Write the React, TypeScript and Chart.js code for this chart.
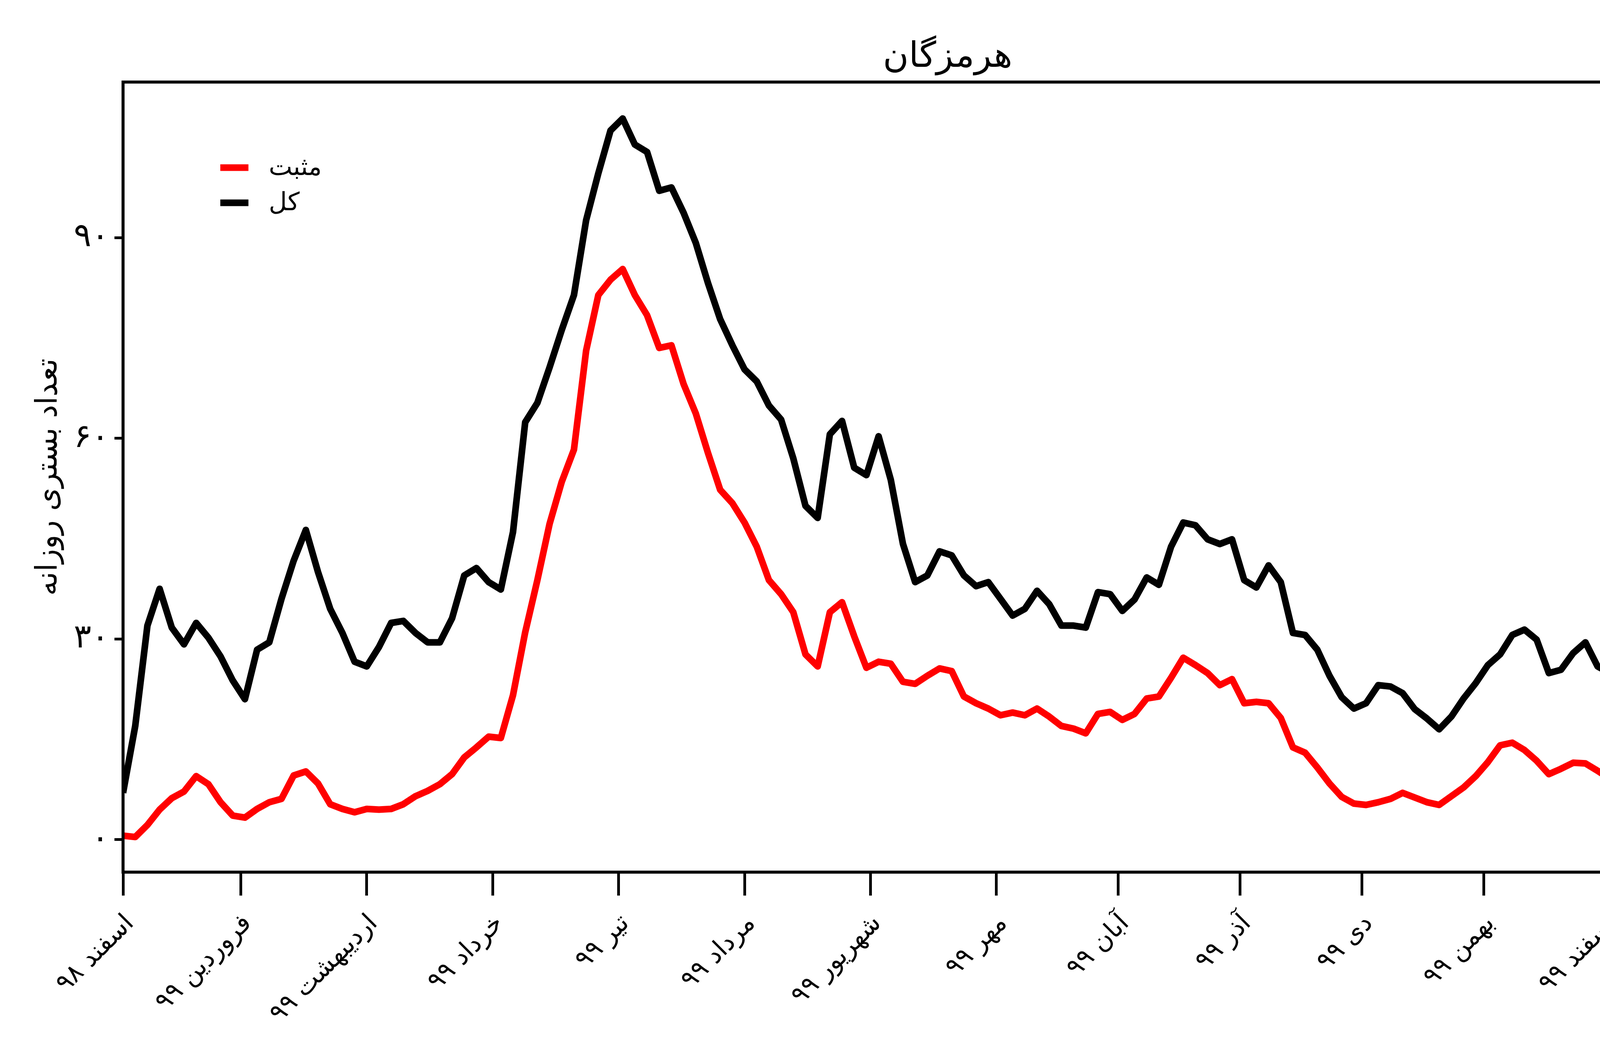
import React, { useRef, useEffect } from 'react';
import Chart from 'chart.js/auto';

// روزهای نمونه از ۱ اسفند ۹۸
const days = [
  0, 3, 6, 9, 12, 15, 18, 21, 24, 27, 30, 33, 36, 39, 42, 45, 48, 51, 54, 57,
  60, 63, 66, 69, 72, 75, 78, 81, 84, 87, 90, 93, 96, 99, 102, 105, 108, 111, 114, 117,
  120, 123, 126, 129, 132, 135, 138, 141, 144, 147, 150, 153, 156, 159, 162, 165, 168, 171, 174, 177,
  180, 183, 186, 189, 192, 195, 198, 201, 204, 207, 210, 213, 216, 219, 222, 225, 228, 231, 234, 237,
  240, 243, 246, 249, 252, 255, 258, 261, 264, 267, 270, 273, 276, 279, 282, 285, 288, 291, 294, 297,
  300, 303, 306, 309, 312, 315, 318, 321, 324, 327, 330, 333, 336, 339, 342, 345, 348, 351, 354, 357,
  360, 363, 366, 369, 372, 375, 378, 381, 384, 387, 390, 393, 396, 399, 402,
];

// مثبت
const positive = [
  0.6, 0.4, 2.2, 4.5, 6.2, 7.2, 9.5, 8.3, 5.6, 3.6, 3.3, 4.6, 5.6, 6.1, 9.6, 10.2, 8.4, 5.3, 4.6, 4.1,
  4.6, 4.5, 4.6, 5.3, 6.5, 7.3, 8.3, 9.8, 12.3, 13.8, 15.4, 15.2, 21.6, 31, 38.8, 47.2, 53.5, 58.3, 73.1, 81.4,
  83.7, 85.3, 81.4, 78.4, 73.5, 73.9, 68.1, 63.7, 57.8, 52.3, 50.3, 47.4, 43.8, 38.8, 36.7, 34, 27.7, 25.9, 34, 35.5,
  30.4, 25.7, 26.6, 26.3, 23.6, 23.3, 24.5, 25.6, 25.2, 21.4, 20.4, 19.6, 18.6, 19, 18.6, 19.6, 18.4, 17, 16.6, 15.9,
  18.8, 19.1, 17.9, 18.8, 21.1, 21.4, 24.2, 27.2, 26.1, 24.9, 23.1, 24, 20.4, 20.6, 20.4, 18.2, 13.8, 13, 10.8, 8.4,
  6.4, 5.4, 5.2, 5.6, 6.1, 7, 6.3, 5.6, 5.2, 6.5, 7.8, 9.5, 11.6, 14.1, 14.5, 13.4, 11.8, 9.8, 10.6, 11.5,
  11.4, 10.3, 9.1, 7.5, 7.9, 8.9, 11.1, 11.3, 10.7, 9.6, 9.8, 9.1, 11.6, 15.6, 18.9,
];

// کل
const total = [
  7, 17, 32, 37.5, 31.7, 29.2, 32.4, 30.2, 27.4, 23.8, 21, 28.4, 29.5, 36, 41.7, 46.3, 40, 34.5, 30.9, 26.6,
  25.9, 28.8, 32.4, 32.7, 30.9, 29.5, 29.5, 33.1, 39.5, 40.6, 38.5, 37.4, 46, 62.4, 65.3, 70.6, 76.2, 81.4, 92.6, 99.6,
  106, 107.8, 103.9, 102.8, 97, 97.5, 93.7, 89.2, 83.2, 77.8, 73.9, 70.3, 68.5, 64.9, 62.8, 57, 49.9, 48.1, 60.6, 62.6,
  55.6, 54.5, 60.3, 53.8, 44.2, 38.5, 39.5, 43.1, 42.5, 39.5, 37.9, 38.5, 36, 33.5, 34.5, 37.2, 35.2, 32, 32, 31.7,
  37, 36.7, 34.2, 35.9, 39.2, 38.1, 43.8, 47.4, 47, 44.9, 44.2, 44.9, 38.8, 37.7, 41, 38.5, 30.9, 30.6, 28.4, 24.5,
  21.3, 19.6, 20.4, 23.1, 22.9, 21.9, 19.5, 18.1, 16.5, 18.4, 21.1, 23.4, 26.1, 27.7, 30.6, 31.4, 29.9, 24.9, 25.4, 27.9,
  29.5, 25.9, 24.9, 20.7, 23.8, 26.3, 26.7, 26.3, 25.6, 22.4, 22, 21.6, 23.6, 30.2, 36.5,
];

// ابتدای ماه‌ها
const monthStarts = [0, 29, 60, 91, 122, 153, 184, 215, 245, 275, 305, 335, 365, 395];
const monthLabels = [
  'اسفند ۹۸', 'فروردین ۹۹', 'اردیبهشت ۹۹', 'خرداد ۹۹', 'تیر ۹۹', 'مرداد ۹۹', 'شهریور ۹۹',
  'مهر ۹۹', 'آبان ۹۹', 'آذر ۹۹', 'دی ۹۹', 'بهمن ۹۹', 'اسفند ۹۹', 'فروردین ۱۴۰۰',
];

const leftTicks = [0, 30, 60, 90];
const leftTickLabels = ['۰', '۳۰', '۶۰', '۹۰'];
const rightTicks = [0, 2, 4, 6];
const rightTickLabels = ['۰', '۲', '۴', '۶'];

const FONT = 'DejaVu Sans';

// قاب دور نمودار
const framePlugin = {
  id: 'frame',
  afterDraw(chart: any) {
    const { ctx, chartArea: a } = chart;
    ctx.save();
    ctx.strokeStyle = '#000';
    ctx.lineWidth = 7.7;
    ctx.strokeRect(a.left, a.top, a.right - a.left, a.bottom - a.top);
    ctx.restore();
  },
};

// راهنما داخل نمودار
const legendPlugin = {
  id: 'innerLegend',
  afterDraw(chart: any) {
    const { ctx } = chart;
    const rows = [429, 519];
    ctx.save();
    ctx.font = `64px "${FONT}"`;
    ctx.textBaseline = 'middle';
    ctx.textAlign = 'left';
    chart.data.datasets.forEach((ds: any, i: number) => {
      const y = rows[i];
      ctx.strokeStyle = ds.borderColor;
      ctx.lineWidth = 17;
      ctx.beginPath();
      ctx.moveTo(564, y);
      ctx.lineTo(636, y);
      ctx.stroke();
      ctx.fillStyle = '#000';
      ctx.fillText(ds.label, 688, y + 2);
    });
    ctx.restore();
  },
};

const App: React.FC = () => {
  const canvasRef = useRef<HTMLCanvasElement>(null);
  const chartRef = useRef<Chart | null>(null);

  useEffect(() => {
    if (!canvasRef.current) return;
    if (chartRef.current) chartRef.current.destroy();

    const ctx = canvasRef.current.getContext('2d')!;
    Chart.defaults.font.family = FONT;
    Chart.defaults.color = '#000';

    chartRef.current = new Chart(ctx, {
      type: 'line',
      data: {
        datasets: [
          {
            label: 'مثبت',
            data: days.map((d, i) => ({ x: d, y: positive[i] })),
            borderColor: '#ff0000',
            borderWidth: 17,
            pointRadius: 0,
            tension: 0,
            borderJoinStyle: 'round',
            yAxisID: 'y',
          },
          {
            label: 'کل',
            data: days.map((d, i) => ({ x: d, y: total[i] })),
            borderColor: '#000000',
            borderWidth: 17,
            pointRadius: 0,
            tension: 0,
            borderJoinStyle: 'round',
            yAxisID: 'y',
          },
        ],
      },
      options: {
        responsive: false,
        devicePixelRatio: 1,
        animation: false,
        layout: { padding: 0 },
        plugins: {
          legend: { display: false },
          tooltip: { enabled: false },
          title: {
            display: true,
            text: 'هرمزگان',
            fullSize: false,
            color: '#000',
            font: { size: 90, weight: 'normal', lineHeight: 1.2 },
            padding: { top: 94, bottom: 8 },
          },
        },
        scales: {
          x: {
            type: 'linear',
            position: 'bottom',
            min: 0,
            max: 406,
            afterBuildTicks: (s: any) => {
              s.ticks = monthStarts.map((v) => ({ value: v }));
            },
            afterFit: (s: any) => {
              s.height = 468;
            },
            border: { display: false },
            grid: {
              drawOnChartArea: false,
              drawTicks: true,
              tickLength: 60,
              tickWidth: 7,
              tickColor: '#000',
            },
            ticks: {
              autoSkip: false,
              minRotation: 45,
              maxRotation: 45,
              padding: 34,
              labelOffset: 18,
              font: { size: 65 },
              color: '#000',
              callback: (v: any) => monthLabels[monthStarts.indexOf(Number(v))] ?? '',
            },
          },
          y: {
            type: 'linear',
            position: 'left',
            min: -4.85,
            max: 113.25,
            afterBuildTicks: (s: any) => {
              s.ticks = leftTicks.map((v) => ({ value: v }));
            },
            afterFit: (s: any) => {
              s.width = 315;
            },
            border: { display: false },
            grid: {
              drawOnChartArea: false,
              drawTicks: true,
              tickLength: 22,
              tickWidth: 7,
              tickColor: '#000',
            },
            ticks: {
              padding: 14,
              font: { size: 84 },
              color: '#000',
              callback: (v: any) => leftTickLabels[leftTicks.indexOf(Number(v))] ?? '',
            },
            title: {
              display: true,
              text: 'تعداد بستری روزانه',
              color: '#000',
              font: { size: 76, lineHeight: 1.2 },
              padding: { top: 80, bottom: 0 },
            },
          },
          y1: {
            type: 'linear',
            position: 'right',
            min: -0.262,
            max: 6.202,
            afterBuildTicks: (s: any) => {
              s.ticks = rightTicks.map((v) => ({ value: v }));
            },
            afterFit: (s: any) => {
              s.width = 263;
            },
            border: { display: false },
            grid: {
              drawOnChartArea: false,
              drawTicks: true,
              tickLength: 22,
              tickWidth: 7,
              tickColor: '#000',
            },
            ticks: {
              padding: 24,
              font: { size: 84 },
              color: '#000',
              callback: (v: any) => rightTickLabels[rightTicks.indexOf(Number(v))] ?? '',
            },
            title: {
              display: true,
              text: 'تعداد بستری روزانه به ازای هر ۱۰۰۰۰۰ نفر جمعیت',
              color: '#000',
              font: { size: 76, lineHeight: 1.2 },
              padding: { top: 79, bottom: 0 },
            },
          },
        },
      },
      plugins: [framePlugin, legendPlugin],
    });

    return () => {
      if (chartRef.current) {
        chartRef.current.destroy();
        chartRef.current = null;
      }
    };
  }, []);

  return (
    <div style={{ position: 'absolute', left: 0, top: 0, width: 4800, height: 2700, background: '#fff' }}>
      <canvas
        ref={canvasRef}
        width={4800}
        height={2700}
        style={{ display: 'block', width: '4800px', height: '2700px' }}
      />
    </div>
  );
};

export default App;
